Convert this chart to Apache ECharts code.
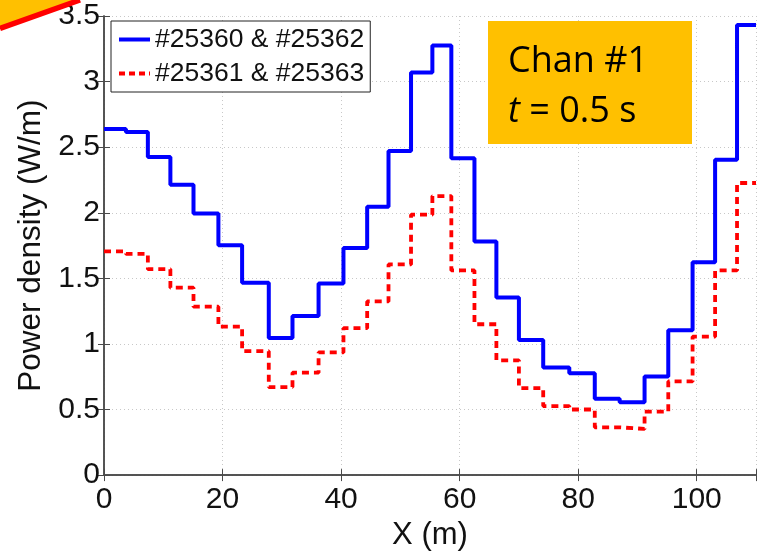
<!DOCTYPE html>
<html>
<head>
<meta charset="utf-8">
<title>Power density</title>
<script src="https://cdn.jsdelivr.net/npm/echarts@6/dist/echarts.min.js"></script>
<style>
  html, body { margin: 0; padding: 0; background: #fff; }
  #chart { width: 759px; height: 556px; }
</style>
</head>
<body>
<div id="chart"></div>
<script>
// segment start positions (m), last segment ends at xEnd
const segStarts = [0, 3.7, 7.4, 11.2, 15.1, 19.3, 23.3, 27.8, 31.8, 36.2, 40.4, 44.4, 48.0, 51.8,
  55.4, 58.6, 62.5, 66.2, 70.0, 74.1, 78.5, 82.8, 87.0, 91.2, 95.2, 99.3, 103.1, 106.8];
const xEnd = 110;
const blueVals = [2.638, 2.615, 2.426, 2.214, 1.995, 1.753, 1.466, 1.045, 1.212, 1.461, 1.731, 2.045,
  2.471, 3.07, 3.276, 2.416, 1.78, 1.354, 1.03, 0.82, 0.776, 0.583, 0.556, 0.751, 1.105, 1.623, 2.404, 3.431];
const redVals = [1.705, 1.686, 1.570, 1.429, 1.284, 1.132, 0.945, 0.671, 0.781, 0.935, 1.12, 1.324,
  1.606, 1.985, 2.127, 1.56, 1.15, 0.875, 0.663, 0.526, 0.50, 0.364, 0.352, 0.484, 0.714, 1.055, 1.56, 2.227];
const seriesNames = ['#25360 & #25362', '#25361 & #25363'];

function stepData(vals) {
  const d = segStarts.map((x, i) => [x, vals[i]]);
  d.push([xEnd, vals[vals.length - 1]]);
  return d;
}

const font = 'Liberation Sans, Arial, Helvetica, sans-serif';
const axisCol = '#4a4a4a';
const gridLine = { show: true, lineStyle: { color: '#c8c8c8', type: [1, 3], width: 1 } };

const chart = echarts.init(document.getElementById('chart'));
chart.setOption({
  animation: false,
  backgroundColor: '#fff',
  grid: { left: 104, top: 16, right: 2, bottom: 72 },
  legend: {
    orient: 'vertical',
    left: 111, top: 21,
    padding: [5, 6, 5, 6],
    itemWidth: 31, itemHeight: 12, itemGap: 7,
    borderColor: '#222', borderWidth: 1,
    backgroundColor: '#fff',
    itemStyle: { opacity: 0 },
    textStyle: { fontFamily: font, fontSize: 26.5, color: '#111' },
    data: [
      { name: seriesNames[0], lineStyle: { width: 4 } },
      { name: seriesNames[1], lineStyle: { width: 4, type: [6, 4] } }
    ]
  },
  xAxis: [{
    type: 'value', min: 0, max: xEnd, interval: 20,
    name: 'X (m)', nameLocation: 'middle', nameGap: 37,
    nameTextStyle: { fontFamily: font, fontSize: 31, color: '#111' },
    axisLine: { show: true, lineStyle: { color: axisCol, width: 1.5 } },
    axisTick: { show: true, inside: true, length: 6, lineStyle: { color: axisCol } },
    axisLabel: { fontFamily: font, fontSize: 30, color: '#111', margin: 10,
      formatter: (v) => (v > 100 ? '' : String(v)) },
    splitLine: gridLine
  }, {
    type: 'value', min: 0, max: xEnd, interval: 20, position: 'top',
    axisLine: { show: true, lineStyle: { color: axisCol, width: 1.5 } },
    axisTick: { show: true, inside: true, length: 6, lineStyle: { color: axisCol } },
    axisLabel: { show: false }, splitLine: { show: false }
  }],
  yAxis: [{
    type: 'value', min: 0, max: 3.5, interval: 0.5,
    name: 'Power density (W/m)', nameLocation: 'middle', nameGap: 57, nameRotate: 90,
    nameTextStyle: { fontFamily: font, fontSize: 31.5, color: '#111' },
    axisLine: { show: true, lineStyle: { color: axisCol, width: 1.5 } },
    axisTick: { show: true, inside: true, length: 6, lineStyle: { color: axisCol } },
    axisLabel: { fontFamily: font, fontSize: 30, color: '#111', margin: 4 },
    splitLine: gridLine
  }, {
    type: 'value', min: 0, max: 3.5, interval: 0.5, position: 'right',
    axisLine: { show: true, lineStyle: { color: axisCol, width: 1.5 } },
    axisTick: { show: true, inside: true, length: 6, lineStyle: { color: axisCol } },
    axisLabel: { show: false }, splitLine: { show: false }
  }],
  series: [{
    name: seriesNames[0], type: 'line', step: 'end', symbol: 'none',
    data: stepData(blueVals),
    lineStyle: { color: '#0000ff', width: 4 },
    itemStyle: { color: '#0000ff' }
  }, {
    name: seriesNames[1], type: 'line', step: 'end', symbol: 'none',
    data: stepData(redVals),
    lineStyle: { color: '#ff0000', width: 3.8, type: [7, 5] },
    itemStyle: { color: '#ff0000' }
  }],
  graphic: [
    { type: 'polygon', shape: { points: [[0, 0], [80, 0], [0, 28]] }, style: { fill: '#ffc000' }, z: 1 },
    { type: 'line', shape: { x1: 0, y1: 28.5, x2: 80, y2: 0 }, style: { stroke: '#ff0000', lineWidth: 5.5 }, z: 1 },
    { type: 'rect', shape: { x: 488, y: 21, width: 204, height: 123 }, style: { fill: '#ffc000' }, z: 10 },
    { type: 'text', left: 508, top: 44, z: 11,
      style: { text: 'Chan #1', fontFamily: 'Open Sans, sans-serif', fontSize: 36, fill: '#000' } },
    { type: 'text', left: 508, top: 94, z: 11,
      style: {
        text: '{i|t} = 0.5 s',
        fontFamily: 'Open Sans, sans-serif', fontSize: 36, fill: '#000',
        rich: { i: { fontFamily: 'Open Sans, sans-serif', fontSize: 36, fontStyle: 'italic', fill: '#000' } }
      } }
  ]
});
</script>
</body>
</html>
